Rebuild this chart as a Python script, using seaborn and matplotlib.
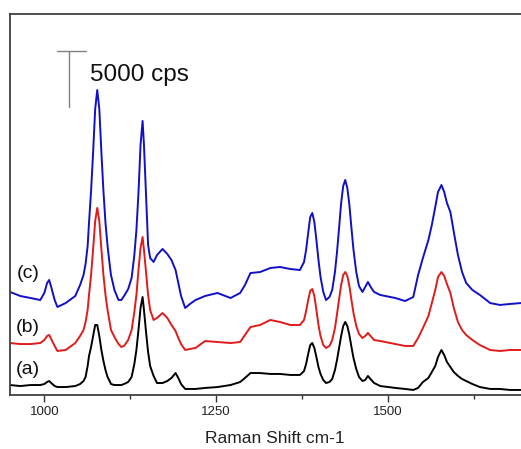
import numpy as np
import pandas as pd
import matplotlib
matplotlib.use("Agg")
import matplotlib.pyplot as plt
from matplotlib.ticker import FixedLocator
import seaborn as sns

# Raman shift (cm-1), shared sampling positions
shift = [950, 965, 980, 994, 1000, 1004, 1007, 1010, 1015, 1019,
         1031, 1045, 1052, 1057, 1060, 1063, 1065, 1068, 1071, 1074,
         1077, 1080, 1083, 1086, 1089, 1092, 1095, 1097, 1102, 1108,
         1112, 1116, 1122, 1127, 1131, 1134, 1137, 1140, 1143, 1145,
         1148, 1151, 1154, 1159, 1164, 1172, 1179, 1185, 1191, 1195,
         1199, 1205, 1212, 1220, 1234, 1252, 1271, 1285, 1292, 1300,
         1314, 1329, 1343, 1358, 1372, 1378, 1381, 1384, 1387, 1390,
         1393, 1396, 1399, 1402, 1406, 1410, 1415, 1419, 1423, 1426,
         1429, 1432, 1435, 1438, 1441, 1444, 1447, 1450, 1454, 1458,
         1463, 1467, 1471, 1476, 1480, 1489, 1511, 1525, 1537, 1544,
         1551, 1559, 1564, 1569, 1573, 1578, 1582, 1586, 1591, 1596,
         1602, 1608, 1614, 1623, 1634, 1649, 1663, 1678, 1694]

# displayed intensities (cps, stacked as drawn)
trace_a = [890, 800, 890, 890, 980, 1160, 1250, 1070, 800, 710,
           710, 800, 980, 1250, 1610, 2590, 3480, 4290, 5270, 6250,
           6250, 5270, 4020, 3040, 2230, 1610, 1250, 980, 890, 890,
           890, 980, 1160, 1610, 2770, 4020, 5800, 7770, 8750, 7590,
           5630, 3840, 2590, 1700, 1070, 1070, 1250, 1520, 1960, 1520,
           980, 540, 540, 540, 630, 710, 890, 1160, 1520, 1960,
           1960, 1880, 1880, 1790, 1790, 2140, 2770, 3660, 4460, 4640,
           4200, 3390, 2500, 1880, 1340, 1070, 1160, 1430, 2230, 3130,
           4200, 5270, 6160, 6520, 6160, 5360, 4290, 3300, 2320, 1610,
           1250, 1340, 1700, 1340, 1070, 800, 630, 540, 450, 630,
           1160, 1520, 2050, 2590, 3390, 4020, 3570, 2950, 2500, 2050,
           1700, 1430, 1250, 980, 710, 540, 540, 450, 450]

trace_b = [4640, 4550, 4550, 4640, 4910, 5270, 5360, 5000, 4380, 3930,
           4020, 4640, 5270, 5800, 6520, 7590, 8930, 10710, 13040, 15540,
           16700, 15540, 13040, 10710, 8930, 7590, 6520, 5800, 5180, 4550,
           4290, 4380, 4910, 5800, 7410, 8930, 11160, 13130, 14110, 12950,
           10980, 8930, 7590, 6700, 6880, 7320, 6880, 6250, 5710, 5090,
           4550, 4020, 4110, 4200, 4820, 4730, 4640, 4730, 5360, 6070,
           6250, 6700, 6520, 6250, 6250, 6700, 7500, 8480, 9290, 9460,
           8840, 7590, 6250, 5270, 4460, 4200, 4380, 4910, 5980, 7230,
           8570, 9820, 10710, 10980, 10630, 9730, 8480, 7320, 6160, 5450,
           5090, 5270, 5540, 5180, 4910, 4820, 4550, 4380, 4380, 5090,
           5980, 7050, 8210, 9380, 10540, 10980, 10630, 9910, 9110, 7770,
           6520, 5800, 5360, 4910, 4460, 4020, 3930, 4020, 4020]

trace_c = [9200, 8840, 8660, 8480, 9110, 10000, 10270, 9640, 8480, 7860,
           8210, 8840, 9820, 10710, 11700, 13300, 15360, 18220, 21700, 25540,
           27230, 25540, 21700, 18220, 15360, 13300, 11700, 10710, 9380, 8480,
           8480, 8840, 9460, 10450, 12500, 14730, 18040, 22320, 24470, 22320,
           17860, 13390, 12230, 11880, 12500, 13040, 12590, 12050, 11160, 10000,
           8840, 7770, 8130, 8480, 8840, 9110, 8660, 9110, 9820, 10890,
           10980, 11340, 11430, 11250, 11160, 11880, 12950, 14460, 15890, 16250,
           15450, 13840, 12050, 10540, 9200, 8480, 8750, 9380, 10980, 12770,
           14910, 17140, 18660, 19200, 18480, 16970, 14910, 12950, 10980, 9730,
           9200, 9640, 10090, 9550, 9200, 8930, 8660, 8390, 8750, 10710,
           12230, 13840, 15180, 16790, 18130, 18750, 18130, 17140, 16340, 14550,
           12500, 10980, 10000, 9380, 8930, 8210, 8040, 8130, 8210]

labels = ["(a)", "(b)", "(c)"]
colors = ["#000000", "#e01b1b", "#1010c8"]

df = pd.concat([
    pd.DataFrame({"shift": shift, "intensity": t, "sample": lab})
    for t, lab in zip([trace_a, trace_b, trace_c], labels)
])

sns.set_theme(style="ticks")
plt.rcParams["font.family"] = ["Liberation Sans", "DejaVu Sans"]

fig = plt.figure(figsize=(5.21, 4.49), dpi=100)
ax = fig.add_axes([10 / 521, 54 / 449, 529 / 521, 381 / 449])

sns.lineplot(data=df, x="shift", y="intensity", hue="sample",
             palette=dict(zip(labels, colors)), linewidth=1.4,
             legend=False, ax=ax, sort=False, estimator=None)

ax.set_xlim(950, 1720)
ax.set_ylim(0, 34020)
ax.xaxis.set_major_locator(FixedLocator([1000, 1250, 1500]))
ax.xaxis.set_minor_locator(FixedLocator([1125, 1375, 1625]))
ax.tick_params(axis="x", which="major", direction="out", length=5, width=1,
               color="#333333", labelsize=9.5, pad=3, labelcolor="#222222")
ax.tick_params(axis="x", which="minor", direction="out", length=3, width=1,
               color="#333333")
ax.set_yticks([])
ax.set_ylabel("")
ax.set_xlabel("Raman Shift cm-1", fontsize=12.5, labelpad=9, color="#222222")
for s in ax.spines.values():
    s.set_color("#404040")
    s.set_linewidth(1.3)

# trace labels
label_y = [370, 327, 273]
for lab, py in zip(labels, label_y):
    fig.text(28 / 521, 1 - py / 449, lab, fontsize=14, ha="center",
             va="center", color="#111111")

# 5000 cps scale bar
ax.plot([1036, 1036], [30720, 25720], color="#808080", lw=1)
ax.plot([1019, 1060], [30720, 30720], color="#808080", lw=1)
fig.text(90 / 521, 1 - 75 / 449, "5000 cps", fontsize=17.5, ha="left",
         va="center", color="#111111")

fig.savefig("out.png", dpi=100)
